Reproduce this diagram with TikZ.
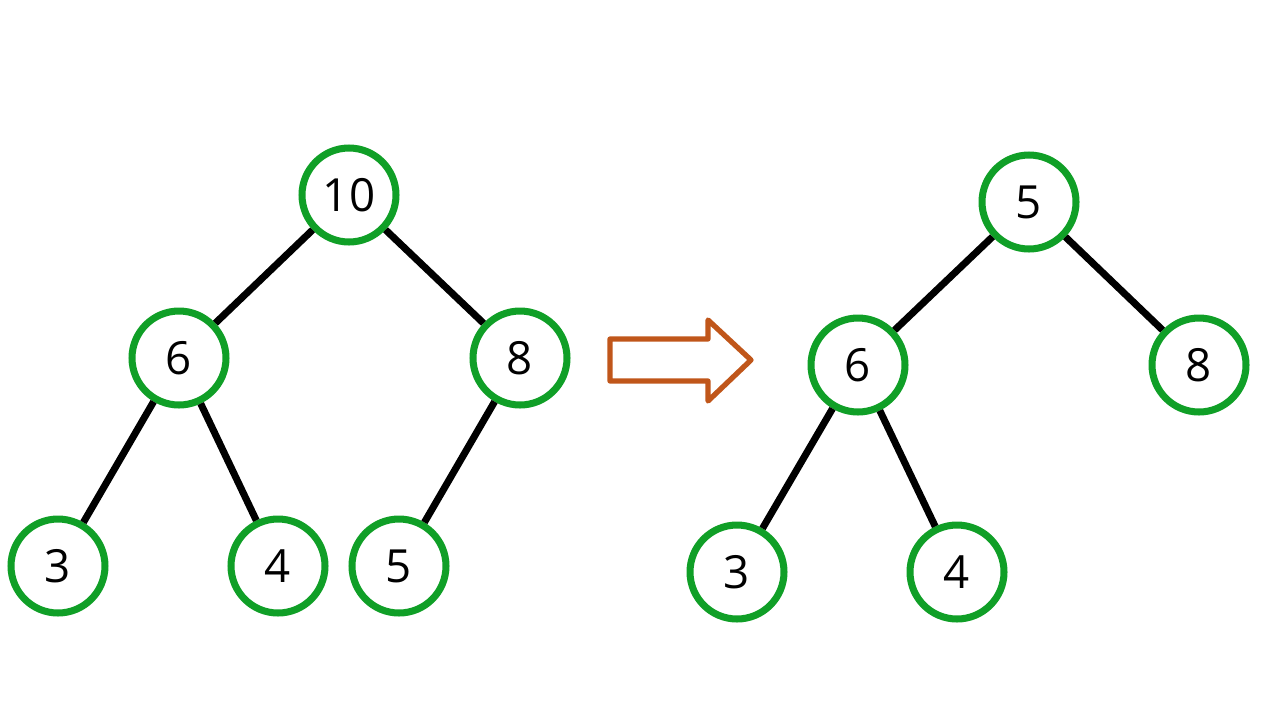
\documentclass[tikz,border=0pt]{standalone}
\usepackage{fontspec}
\setmainfont{Open Sans}
\definecolor{ngreen}{HTML}{109F27}
\definecolor{arr}{HTML}{C0561A}
\begin{document}
\begin{tikzpicture}[x=0.02cm,y=-0.02cm,
  hnode/.style={circle,draw=ngreen,line width=4pt,minimum size=1.88cm,inner sep=0pt,font=\fontsize{26}{30}\selectfont,fill=white},
  edge/.style={line width=4pt,black}]
\useasboundingbox (0,0) rectangle (1267,721);
\node[hnode] (a) at (349,195) {10};
\node[hnode] (b) at (179,358) {6};
\node[hnode] (c) at (520,358) {8};
\node[hnode] (d) at (58,566) {3};
\node[hnode] (e) at (278,566) {4};
\node[hnode] (f) at (399,566) {5};
\node[hnode] (A) at (1029,202) {5};
\node[hnode] (B) at (858,365) {6};
\node[hnode] (C) at (1199,365) {8};
\node[hnode] (D) at (737,572) {3};
\node[hnode] (E) at (957,572) {4};
\begin{scope}[on background layer/.style={}]
\draw[edge] (a) -- (b); \draw[edge] (a) -- (c);
\draw[edge] (b) -- (d); \draw[edge] (b) -- (e);
\draw[edge] (c) -- (f);
\draw[edge] (A) -- (B); \draw[edge] (A) -- (C);
\draw[edge] (B) -- (D); \draw[edge] (B) -- (E);
\end{scope}
\draw[arr,line width=3pt,line join=round] (610,339) -- (708,339) -- (708,320) -- (751,360) -- (708,401) -- (708,381) -- (610,381) -- cycle;
\end{tikzpicture}
\end{document}
